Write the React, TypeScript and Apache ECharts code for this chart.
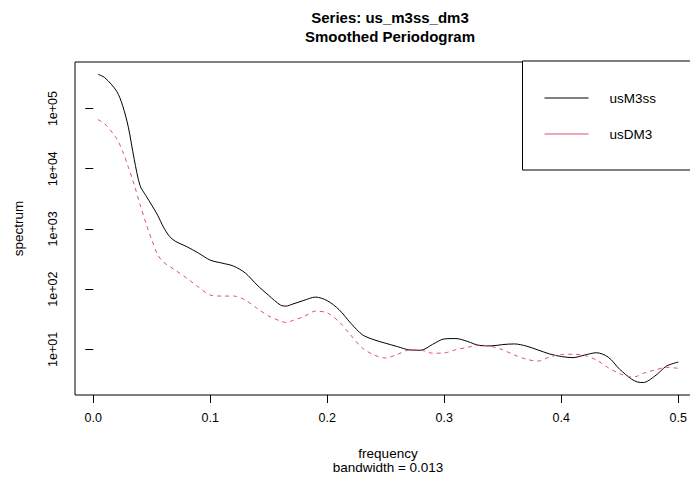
import React, { useEffect, useRef } from "react";
import * as echarts from "echarts";

const FONT = "'Liberation Sans', Arial, Helvetica, sans-serif";

const frequency = [
  0.004, 0.01, 0.02, 0.025, 0.03, 0.035, 0.04, 0.045, 0.05, 0.055, 0.06, 0.065,
  0.07, 0.08, 0.09, 0.1, 0.11, 0.12, 0.13, 0.14, 0.15, 0.16, 0.165, 0.17, 0.18,
  0.19, 0.2, 0.21, 0.22, 0.23, 0.24, 0.25, 0.26, 0.27, 0.28, 0.29, 0.3, 0.31,
  0.32, 0.33, 0.34, 0.35, 0.36, 0.37, 0.38, 0.39, 0.4, 0.41, 0.42, 0.43, 0.44,
  0.45, 0.46, 0.465, 0.47, 0.48, 0.49, 0.5,
];

const usM3ss = [
  371000, 324000, 194000, 113500, 49000, 14400, 5240, 3570, 2480, 1695, 1071,
  759, 627, 507, 396, 303, 271, 241, 185, 117, 78.5, 54.4, 52.3, 56.1, 65.0,
  73.8, 64.3, 45.8, 27.3, 17.5, 14.4, 12.6, 11.1, 9.8, 9.66, 12.1, 14.9, 15.1,
  13.5, 11.6, 11.4, 12.0, 12.3, 11.35, 9.77, 8.39, 7.6, 7.28, 8.04, 8.78, 7.45,
  4.64, 3.21, 2.87, 2.81, 3.6, 5.28, 6.15,
];

const usDM3 = [
  65600, 55300, 31600, 19800, 10600, 5430, 2540, 1248, 659, 374, 281, 241, 207,
  152, 108, 79.6, 76.7, 76.7, 65.8, 47.9, 35.7, 29.5, 27.9, 30.0, 35.0, 43.2,
  40.3, 28.9, 17.3, 10.5, 8.07, 7.17, 8.26, 9.73, 9.66, 8.62, 8.71, 9.89, 10.8,
  11.8, 11.2, 9.81, 8.04, 6.85, 6.39, 7.48, 8.2, 8.29, 7.92, 6.67, 4.97, 3.94,
  3.48, 3.58, 4.0, 4.53, 5.02, 4.84,
];

const xTicks = [0, 0.1, 0.2, 0.3, 0.4, 0.5];
const yTicks = [10, 100, 1000, 10000, 100000];
const seriesNames = ["usM3ss", "usDM3"];
const titleLines = ["Series: us_m3ss_dm3", "Smoothed Periodogram"];
const subTitle = "bandwidth = 0.013";

export default function App() {
  const ref = useRef<HTMLDivElement>(null);

  useEffect(() => {
    if (!ref.current) return;
    const chart = echarts.init(ref.current, null, { renderer: "svg" });
    const option: any = {
      animation: false,
      textStyle: { fontFamily: FONT, color: "#000" },
      title: {
        text: titleLines.join("\n"),
        left: 390,
        top: 8,
        padding: 0,
        textAlign: "center",
        textStyle: {
          fontFamily: FONT,
          fontSize: 15,
          fontWeight: "bold",
          lineHeight: 19,
          color: "#000",
        },
      },
      grid: {
        left: 75,
        top: 62,
        width: 626,
        height: 333,
        show: true,
        borderColor: "#000",
        borderWidth: 1,
        backgroundColor: "transparent",
        containLabel: false,
        outerBoundsMode: "none",
      },
      legend: {
        orient: "vertical",
        left: 522.5,
        top: 61,
        padding: [30, 45, 29, 21.5],
        itemWidth: 44,
        itemHeight: 14,
        itemGap: 22,
        borderColor: "#000",
        borderWidth: 1,
        backgroundColor: "#fff",
        itemStyle: { opacity: 0 },
        lineStyle: { type: "solid", width: 1 },
        textStyle: {
          fontFamily: FONT,
          fontSize: 13.5,
          color: "#000",
          padding: [0, 0, 0, 16],
        },
        data: seriesNames,
      },
      xAxis: {
        type: "value",
        min: -0.0156,
        max: 0.5194,
        axisLine: { show: false },
        axisTick: {
          show: true,
          customValues: xTicks,
          length: 8,
          lineStyle: { color: "#000", width: 1 },
        },
        axisLabel: {
          customValues: xTicks,
          formatter: (v: number) => v.toFixed(1),
          margin: 16,
          fontSize: 12.5,
          fontFamily: FONT,
          color: "#000",
        },
        splitLine: { show: false },
        name: "frequency",
        nameLocation: "middle",
        nameGap: 51,
        nameTextStyle: { fontFamily: FONT, fontSize: 13.5, color: "#000" },
      },
      yAxis: {
        type: "log",
        logBase: 10,
        min: 1.744,
        max: 593000,
        axisLine: { show: false },
        axisTick: {
          show: true,
          customValues: yTicks,
          length: 8,
          lineStyle: { color: "#000", width: 1 },
        },
        axisLabel: {
          customValues: yTicks,
          rotate: 90,
          margin: 16,
          fontSize: 12.5,
          fontFamily: FONT,
          color: "#000",
          formatter: (v: number) => {
            const e = Math.round(Math.log10(v));
            return "1e+" + String(e).padStart(2, "0");
          },
        },
        splitLine: { show: false },
        name: "spectrum",
        nameLocation: "middle",
        nameRotate: 90,
        nameGap: 50,
        nameTextStyle: { fontFamily: FONT, fontSize: 13.5, color: "#000" },
      },
      graphic: [
        {
          type: "text",
          x: 388,
          y: 467,
          style: {
            text: subTitle,
            fontFamily: FONT,
            fontSize: 13.5,
            fill: "#000",
            align: "center",
            verticalAlign: "middle",
          },
        },
      ],
      series: [
        {
          type: "line",
          name: seriesNames[0],
          data: frequency.map((f, i) => [f, usM3ss[i]]),
          symbol: "none",
          showSymbol: false,
          smooth: 0.3,
          lineStyle: { color: "#000", width: 1 },
          itemStyle: { color: "#000" },
        },
        {
          type: "line",
          name: seriesNames[1],
          data: frequency.map((f, i) => [f, usDM3[i]]),
          symbol: "none",
          showSymbol: false,
          smooth: 0.3,
          lineStyle: { color: "#DF536B", width: 1, type: [4, 4] },
          itemStyle: { color: "#DF536B" },
        },
      ],
    };
    chart.setOption(option);
    return () => chart.dispose();
  }, []);

  return (
    <div
      ref={ref}
      style={{ position: "absolute", left: 0, top: 0, width: 690, height: 478 }}
    />
  );
}
